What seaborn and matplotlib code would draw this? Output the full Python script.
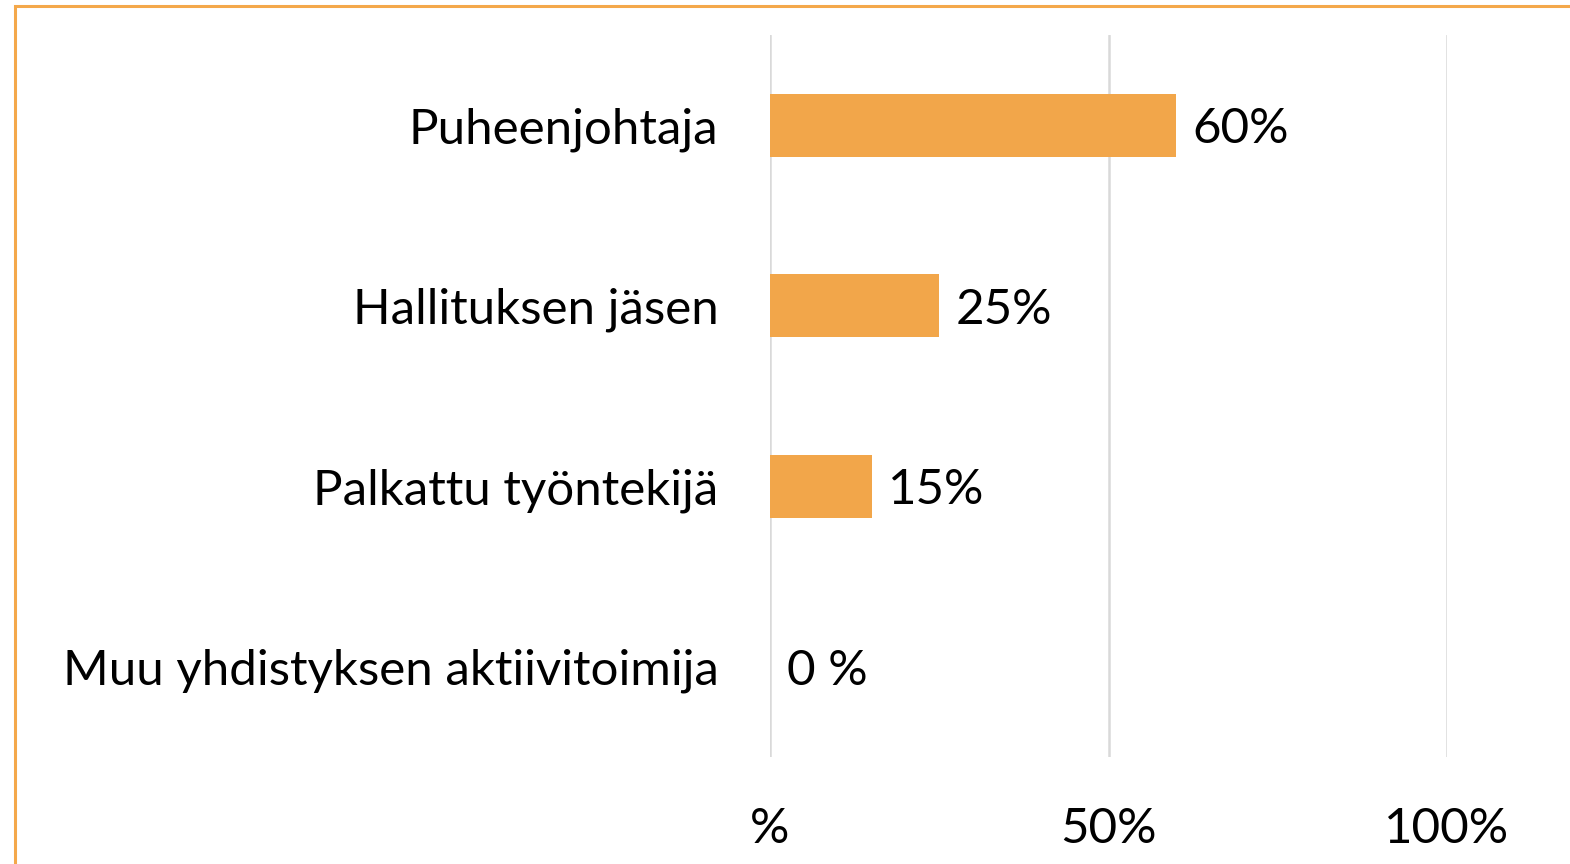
import matplotlib
matplotlib.use("Agg")
import matplotlib.pyplot as plt
import seaborn as sns
import pandas as pd
from matplotlib.patches import Rectangle

# data
roles = ["Puheenjohtaja", "Hallituksen jäsen", "Palkattu työntekijä", "Muu yhdistyksen aktiivitoimija"]
shares = [60, 25, 15, 0]
value_labels = ["60%", "25%", "15%", "0 %"]
tick_vals = [0, 50, 100]
tick_labels = ["%", "50%", "100%"]

df = pd.DataFrame({"role": roles, "share": shares})

sns.set_style("white")
plt.rcParams['font.family'] = ['Lato', 'DejaVu Sans']
plt.rcParams['text.color'] = 'black'
plt.rcParams['xtick.color'] = 'black'
plt.rcParams['ytick.color'] = 'black'

fig = plt.figure(figsize=(15.7, 8.64), dpi=100)
ax = fig.add_axes([770/1570, 1-757/864, (1447-770)/1570, (757-35)/864])

sns.barplot(data=df, x="share", y="role", orient="h", color="#F2A64A",
            saturation=1, width=0.35, linewidth=0, ax=ax, order=roles)

ax.set_xlim(0, 100)
ax.set_ylim(3.5, -0.5)
ax.set_xticks(tick_vals)
ax.set_xticklabels(tick_labels)
ax.set_xlabel("")
ax.set_ylabel("")
ax.grid(axis="x", color="#D9D9D9", linewidth=1.8)
ax.set_axisbelow(True)
for s in ax.spines.values():
    s.set_visible(False)
ax.tick_params(axis="x", length=0, pad=36, labelsize=35.5)
ax.tick_params(axis="y", length=0, pad=37, labelsize=35.5)

texts = ax.bar_label(ax.containers[0], labels=value_labels, padding=12, fontsize=35.5)
for t in texts:
    t.set_verticalalignment("center_baseline")

# orange frame (top and left edges visible)
fig.patches.append(Rectangle((15/1570, -0.1), 1.2, 1 - 6/864 + 0.1,
                             transform=fig.transFigure, fill=False,
                             edgecolor="#F4A84B", linewidth=2.2))

fig.savefig("out.png", dpi=100)
